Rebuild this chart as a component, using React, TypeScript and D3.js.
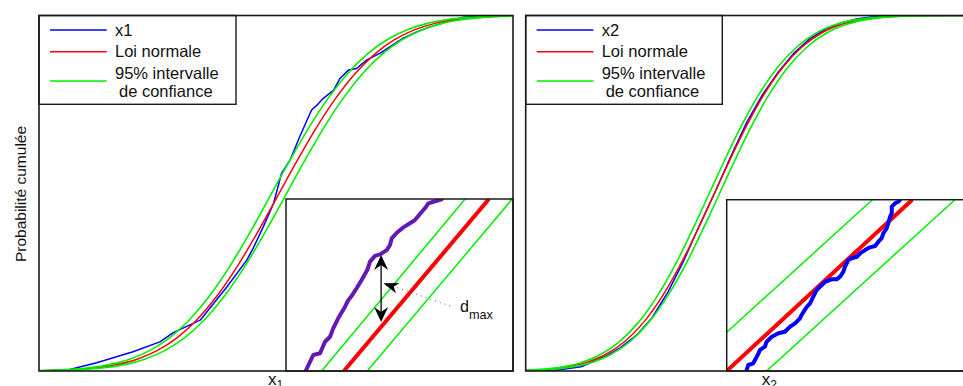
import React from 'react';
import * as d3 from 'd3';

// ---------- data ----------
const gridX = [-3, -2.75, -2.5, -2.25, -2, -1.75, -1.5, -1.25, -1, -0.75, -0.5, -0.25, 0, 0.25, 0.5, 0.75, 1, 1.25, 1.5, 1.75, 2, 2.25, 2.5, 2.75, 3, 3.25];
const normal1 = [0.001, 0.0022, 0.0048, 0.0097, 0.0187, 0.0339, 0.0581, 0.0941, 0.1443, 0.2101, 0.2908, 0.3836, 0.4837, 0.5848, 0.6806, 0.7655, 0.8364, 0.8915, 0.9319, 0.9595, 0.9772, 0.9879, 0.994, 0.9972, 0.9987, 0.9996];
const normal2 = [0.0018, 0.0045, 0.0106, 0.0228, 0.045, 0.0822, 0.1389, 0.2177, 0.3171, 0.4322, 0.5533, 0.6697, 0.7716, 0.8529, 0.9121, 0.9514, 0.9752, 0.9883, 0.995, 0.998, 0.9993, 0.9998, 0.9999, 1, 1, 1];
const band1Offset = 0.095;
const band2Offset = 0.065;

const x1X = [-3, -2.61, -2.27, -1.81, -1.47, -1.3, -0.96, -0.62, -0.37, -0.29, -0.16, -0.03, 0.07, 0.18, 0.3, 0.45, 0.52, 0.6, 0.73, 0.81, 0.92, 1.02, 1.15, 1.32, 1.44, 1.61, 1.78, 1.95, 2.16, 2.37, 2.62, 3.25];
const x1P = [0, 0.004, 0.023, 0.054, 0.082, 0.108, 0.143, 0.237, 0.312, 0.345, 0.406, 0.472, 0.556, 0.594, 0.659, 0.734, 0.748, 0.767, 0.79, 0.823, 0.847, 0.851, 0.875, 0.894, 0.912, 0.936, 0.954, 0.968, 0.982, 0.995, 0.999, 1];

const x2X = [-3, -2.6, -2.3, -2, -1.8, -1.6, -1.4, -1.2, -1, -0.8, -0.6, -0.4, -0.2, 0, 0.2, 0.4, 0.6, 0.8, 1, 1.2, 1.45, 1.7, 3.25];
const x2P = [0, 0.003, 0.012, 0.04, 0.066, 0.1, 0.15, 0.222, 0.31, 0.41, 0.505, 0.605, 0.7, 0.778, 0.842, 0.895, 0.935, 0.962, 0.98, 0.991, 0.998, 1, 1];

// zoomed insets (inset-relative units 0..1)
const inset1U = [0.088, 0.12, 0.15, 0.172, 0.194, 0.208, 0.23, 0.26, 0.275, 0.289, 0.311, 0.333, 0.358, 0.37, 0.392, 0.414, 0.444, 0.458, 0.466, 0.488, 0.517, 0.546, 0.568, 0.59, 0.612, 0.627, 0.649, 0.686];
const inset1V = [0.004, 0.093, 0.103, 0.17, 0.199, 0.248, 0.306, 0.374, 0.413, 0.436, 0.481, 0.529, 0.587, 0.636, 0.669, 0.678, 0.703, 0.733, 0.771, 0.804, 0.835, 0.859, 0.878, 0.913, 0.946, 0.975, 0.984, 0.998];
const inset1Red: [number, number][] = [[0.255, 0], [0.894, 1]];
const inset1GreenA: [number, number][] = [[0.157, 0], [0.789, 1]];
const inset1GreenB: [number, number][] = [[0.358, 0], [0.997, 1]];

const inset2U = [0.073, 0.079, 0.097, 0.11, 0.122, 0.14, 0.146, 0.165, 0.189, 0.213, 0.232, 0.25, 0.268, 0.274, 0.293, 0.305, 0.317, 0.329, 0.348, 0.36, 0.384, 0.402, 0.415, 0.427, 0.433, 0.445, 0.457, 0.476, 0.488, 0.506, 0.524, 0.543, 0.555, 0.567, 0.573, 0.585, 0.591, 0.598, 0.604, 0.604, 0.616, 0.628, 0.634];
const inset2V = [0.006, 0.035, 0.045, 0.083, 0.123, 0.142, 0.171, 0.2, 0.22, 0.229, 0.259, 0.278, 0.307, 0.327, 0.375, 0.395, 0.434, 0.473, 0.502, 0.521, 0.535, 0.535, 0.551, 0.58, 0.609, 0.648, 0.658, 0.667, 0.687, 0.706, 0.722, 0.73, 0.755, 0.775, 0.804, 0.833, 0.862, 0.901, 0.921, 0.959, 0.979, 0.988, 1.0];
const inset2Red: [number, number][] = [[0, 0], [0.679, 1]];
const inset2GreenA: [number, number][] = [[0, 0.226], [0.533, 1]];
const inset2GreenB: [number, number][] = [[0.146, 0], [0.835, 1]];

const legend1Labels = ['x1', 'Loi normale', '95% intervalle', ' de confiance'];
const legend2Labels = ['x2', 'Loi normale', '95% intervalle', ' de confiance'];
const yLabel = 'Probabilité cumulée';

// ---------- styling ----------
const FONT = '"Liberation Sans", Arial, Helvetica, sans-serif';
const BLUE = '#0000ff';
const RED = '#ff0000';
const GREEN = '#00ee00';
const PURPLE = '#6418b4';
const FRAME = '#1a1a1a';
const TOP = 15.5;
const BOTTOM = 371;

function arrowHead(tx: number, ty: number, dx: number, dy: number, len: number, hw: number, notch: number) {
  const n = Math.hypot(dx, dy);
  const ux = dx / n, uy = dy / n;
  const px = -uy, py = ux;
  const bx = tx - len * ux, by = ty - len * uy;
  const nx = tx - (len - notch) * ux, ny = ty - (len - notch) * uy;
  return `M${tx},${ty}L${bx + hw * px},${by + hw * py}L${nx},${ny}L${bx - hw * px},${by - hw * py}Z`;
}

type PanelProps = {
  id: string;
  x0: number; x1: number; xDomain: [number, number];
  normal: number[]; bandOffset: number;
  ecdfX: number[]; ecdfP: number[]; ecdfColor: string;
  legend: string[]; legendX1: number;
  inset: { x0: number; x1: number; y0: number; y1: number };
  insetU: number[]; insetV: number[]; insetColor: string;
  insetRed: [number, number][]; insetGA: [number, number][]; insetGB: [number, number][];
  sub: string; labelX: number;
  annot: boolean;
};

function Panel(p: PanelProps) {
  const xs = d3.scaleLinear(p.xDomain, [p.x0, p.x1]);
  const ys = d3.scaleLinear([0, 1], [BOTTOM, TOP]);
  const smooth = d3.line<[number, number]>().x(d => xs(d[0])).y(d => ys(d[1])).curve(d3.curveMonotoneX);
  const lin = d3.line<[number, number]>().x(d => xs(d[0])).y(d => ys(d[1]));
  const red = gridX.map((x, i) => [x, p.normal[i]] as [number, number]);
  const gA = gridX.map((x, i) => [x - p.bandOffset, p.normal[i]] as [number, number]);
  const gB = gridX.map((x, i) => [x + p.bandOffset, p.normal[i]] as [number, number]);
  const ecdf = p.ecdfX.map((x, i) => [x, p.ecdfP[i]] as [number, number]);

  const ix = d3.scaleLinear([0, 1], [p.inset.x0, p.inset.x1]);
  const iy = d3.scaleLinear([0, 1], [p.inset.y1, p.inset.y0]);
  const iline = d3.line<[number, number]>().x(d => ix(d[0])).y(d => iy(d[1]));
  const iecdf = p.insetU.map((u, i) => [u, p.insetV[i]] as [number, number]);

  const lgY = [30, 51.7, 81];
  const lgText = [36, 57.3, 78.5, 96.5];
  const lx0 = p.x0 + 11;

  return (
    <g>
      <defs>
        <clipPath id={`clip-${p.id}`}><rect x={p.x0} y={TOP} width={p.x1 - p.x0} height={BOTTOM - TOP} /></clipPath>
        <clipPath id={`iclip-${p.id}`}><rect x={p.inset.x0} y={p.inset.y0} width={p.inset.x1 - p.inset.x0} height={p.inset.y1 - p.inset.y0} /></clipPath>
      </defs>
      <rect x={p.x0} y={TOP} width={p.x1 - p.x0} height={BOTTOM - TOP} fill="#fff" />
      <g clipPath={`url(#clip-${p.id})`} fill="none" strokeLinejoin="round">
        <path d={lin(ecdf) || ''} stroke={p.ecdfColor} strokeWidth={1.5} />
        <path d={smooth(red) || ''} stroke={RED} strokeWidth={1.5} />
        <path d={smooth(gA) || ''} stroke={GREEN} strokeWidth={1.6} />
        <path d={smooth(gB) || ''} stroke={GREEN} strokeWidth={1.6} />
      </g>
      {/* legend */}
      <rect x={p.x0} y={TOP} width={p.legendX1 - p.x0} height={104.3 - TOP} fill="#fff" stroke={FRAME} strokeWidth={1.4} />
      {[BLUE, RED, GREEN].map((c, i) => (
        <line key={i} x1={lx0} x2={lx0 + 56.7} y1={lgY[i]} y2={lgY[i]} stroke={c} strokeWidth={1.5} />
      ))}
      {p.legend.map((t, i) => (
        <text key={i} x={lx0 + 65 + (i === 3 ? 4 : 0)} y={lgText[i]} fontSize={16.5} fontFamily={FONT} fill="#111">{t.trim()}</text>
      ))}
      {/* inset */}
      <rect x={p.inset.x0} y={p.inset.y0} width={p.inset.x1 - p.inset.x0} height={p.inset.y1 - p.inset.y0} fill="#fff" />
      <g clipPath={`url(#iclip-${p.id})`} fill="none" strokeLinejoin="round" strokeLinecap="round">
        <path d={iline(p.insetGA) || ''} stroke={GREEN} strokeWidth={1.5} />
        <path d={iline(p.insetGB) || ''} stroke={GREEN} strokeWidth={1.5} />
        <path d={iline(p.insetRed) || ''} stroke={RED} strokeWidth={4} strokeLinecap="butt" />
        <path d={iline(iecdf) || ''} stroke={p.insetColor} strokeWidth={4} />
      </g>
      {p.annot && (
        <g>
          <line x1={ix(0.419)} x2={ix(0.419)} y1={iy(0.66)} y2={iy(0.3)} stroke="#000" strokeWidth={1.3} />
          <path d={arrowHead(ix(0.419), iy(0.674), 0, -1, 15, 7, 5)} fill="#000" />
          <path d={arrowHead(ix(0.419), iy(0.285), 0, 1, 15, 7, 5)} fill="#000" />
          <path d={arrowHead(ix(0.429), iy(0.51), ix(0.429) - ix(0.736), iy(0.51) - iy(0.372), 15, 5.5, 4)} fill="#000" />
          <line x1={ix(0.49)} y1={iy(0.485)} x2={ix(0.736)} y2={iy(0.372)} stroke="#555" strokeWidth={1} strokeDasharray="1 4" />
          <text x={ix(0.767)} y={iy(0.345)} fontFamily={FONT} fontSize={16} fill="#111">d<tspan fontSize={12.7} dy={7}>max</tspan></text>
        </g>
      )}
      <rect x={p.inset.x0} y={p.inset.y0} width={p.inset.x1 - p.inset.x0} height={p.inset.y1 - p.inset.y0} fill="none" stroke={FRAME} strokeWidth={1.5} />
      {/* frame */}
      <rect x={p.x0} y={TOP} width={p.x1 - p.x0} height={BOTTOM - TOP} fill="none" stroke={FRAME} strokeWidth={1.6} />
      <text x={p.labelX} y={385} fontFamily={FONT} fontSize={17} fill="#111">x<tspan fontSize={12} dy={4}>{p.sub}</tspan></text>
    </g>
  );
}

export default function App() {
  return (
    <svg width={963} height={386} style={{ position: 'absolute', left: 0, top: 0, background: '#fff' }}>
      <rect width={963} height={386} fill="#fff" />
      <text transform="translate(26,194) rotate(-90)" textAnchor="middle" fontFamily={FONT} fontSize={15.5} fill="#111">{yLabel}</text>
      <Panel id="a" x0={39} x1={513} xDomain={[-3, 3]} normal={normal1} bandOffset={band1Offset}
        ecdfX={x1X} ecdfP={x1P} ecdfColor={BLUE} legend={legend1Labels} legendX1={236}
        inset={{ x0: 286, x1: 513, y0: 199, y1: 371 }} insetU={inset1U} insetV={inset1V} insetColor={PURPLE}
        insetRed={inset1Red} insetGA={inset1GreenA} insetGB={inset1GreenB} sub="1" labelX={268} annot={true} />
      <Panel id="b" x0={525.7} x1={1012} xDomain={[-3, 3.156]} normal={normal2} bandOffset={band2Offset}
        ecdfX={x2X} ecdfP={x2P} ecdfColor={BLUE} legend={legend2Labels} legendX1={722.3}
        inset={{ x0: 726.7, x1: 1000, y0: 199.7, y1: 371 }} insetU={inset2U} insetV={inset2V} insetColor={BLUE}
        insetRed={inset2Red} insetGA={inset2GreenA} insetGB={inset2GreenB} sub="2" labelX={761.7} annot={false} />
    </svg>
  );
}
